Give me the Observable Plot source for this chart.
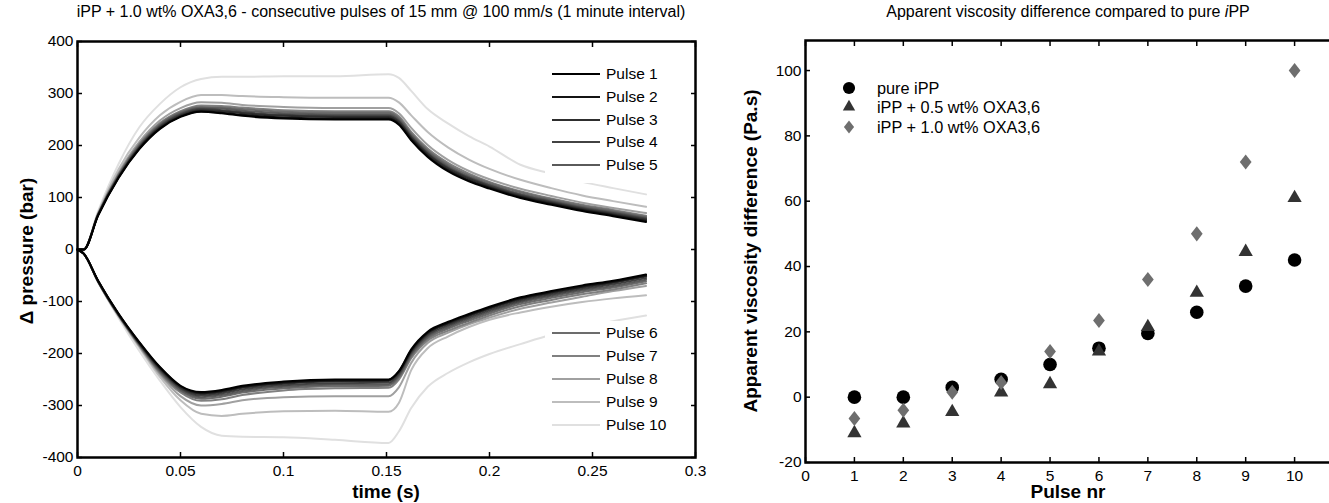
<!DOCTYPE html>
<html><head><meta charset="utf-8">
<script src="https://cdn.jsdelivr.net/npm/d3@7"></script>
<script src="https://cdn.jsdelivr.net/npm/@observablehq/plot@0.6"></script>
<style>
html,body{margin:0;padding:0;background:#fff;overflow:hidden}
#wrap{position:relative;width:1329px;height:503px;overflow:hidden;font-family:"Liberation Sans",Arial,Helvetica,sans-serif;color:#000}
.abs{position:absolute;white-space:nowrap}
.title{font-size:16px;text-align:center}
.axlab{font-size:19px;font-weight:bold;text-align:center}
.leg{position:absolute;background:#fff}
.legrow{position:absolute;font-size:15.5px;line-height:18px;white-space:nowrap}
</style></head><body><div id="wrap"></div>
<script>
// ---------------- LEFT CHART DATA ----------------
const times = [0, 0.003, 0.01, 0.02, 0.03, 0.04, 0.05, 0.06, 0.07, 0.08, 0.1, 0.125, 0.151, 0.156, 0.162, 0.17, 0.18, 0.19, 0.2, 0.215, 0.23, 0.245, 0.26, 0.276];
const pulseNames = ["Pulse 1","Pulse 2","Pulse 3","Pulse 4","Pulse 5","Pulse 6","Pulse 7","Pulse 8","Pulse 9","Pulse 10"];
const pulseColors = ["#000000","#141414","#2e2e2e","#424242","#5a5a5a","#6c6c6c","#808080","#a0a0a0","#bdbdbd","#e0e0e0"];
// positive pressure branch (bar), one row per pulse, values at `times`
const pulseUpper = [
  [0,0,65,138,193,232,255,265,262,257,252,250,250,240,210,178,150,131,117,99,86,74,64,53],
  [0,0,66,139,194,233,256,266,263,259,254,252,252,242,212,180,152,133,119,101,88,76,66,55],
  [0,0,66,140,196,235,258,268,266,262,257,255,255,245,215,183,155,136,121,103,90,78,68,57],
  [0,0,67,141,197,237,260,270,268,264,259,257,257,247,217,185,157,138,123,105,92,80,70,59],
  [0,0,67,142,199,239,262,272,271,267,262,260,260,250,220,188,160,140,125,107,94,82,72,61],
  [0,0,68,144,201,241,264,274,273,270,265,263,263,253,223,191,163,143,128,110,96,84,74,63],
  [0,0,68,145,203,243,266,277,276,273,268,266,266,256,226,194,166,146,130,112,98,86,76,65],
  [0,0,69,148,207,248,272,283,282,278,274,272,272,262,234,201,172,151,135,117,103,90,80,70],
  [0,0,71,155,215,258,284,297,297,295,293,292,292,283,258,226,196,173,155,134,118,104,93,82],
  [0,0,74,165,235,280,312,328,332,332,333,333,337,330,305,270,242,218,198,163,146,130,118,106]
];
// negative pressure branch (bar)
const pulseLower = [
  [0,-8,-60,-124,-178,-226,-262,-274,-270,-262,-254,-250,-250,-234,-192,-158,-139,-124,-110,-92,-80,-69,-60,-48],
  [0,-8,-60,-124,-179,-227,-263,-276,-272,-264,-256,-252,-251,-235,-194,-160,-141,-126,-112,-94,-82,-71,-62,-50],
  [0,-8,-61,-125,-180,-229,-265,-278,-274,-266,-258,-254,-253,-237,-196,-162,-143,-128,-114,-96,-84,-73,-64,-52],
  [0,-8,-61,-126,-181,-231,-267,-281,-277,-269,-261,-257,-256,-240,-199,-165,-146,-131,-117,-99,-87,-76,-67,-55],
  [0,-8,-61,-126,-182,-233,-270,-284,-280,-272,-264,-260,-259,-243,-202,-168,-149,-134,-120,-102,-90,-79,-70,-58],
  [0,-8,-62,-127,-183,-235,-272,-287,-283,-275,-267,-263,-262,-246,-205,-171,-152,-137,-123,-105,-93,-82,-73,-61],
  [0,-8,-62,-127,-184,-237,-275,-291,-288,-280,-271,-267,-266,-250,-209,-175,-156,-141,-127,-109,-97,-86,-77,-65],
  [0,-8,-62,-128,-186,-240,-282,-300,-297,-290,-284,-282,-282,-265,-218,-180,-160,-144,-131,-114,-102,-91,-80,-70],
  [0,-8,-62,-129,-188,-245,-290,-316,-320,-316,-311,-310,-312,-295,-232,-190,-167,-149,-135,-121,-110,-101,-94,-88],
  [0,-8,-63,-132,-195,-252,-303,-341,-358,-360,-361,-366,-372,-350,-305,-264,-237,-217,-201,-182,-164,-150,-138,-127]
];
const timeTicks = [0, 0.05, 0.1, 0.15, 0.2, 0.25, 0.3];
const pressureTicks = [-400, -300, -200, -100, 0, 100, 200, 300, 400];
const leftTitle = "iPP + 1.0 wt% OXA3,6 - consecutive pulses of 15 mm @ 100 mm/s (1 minute interval)";
const leftXLabel = "time (s)";
const leftYLabel = "\u0394 pressure (bar)";

// ---------------- RIGHT CHART DATA ----------------
const pulseNr = [1, 2, 3, 4, 5, 6, 7, 8, 9, 10];
const pureIPP = [0, 0, 3, 5.5, 10, 15, 19.5, 26, 34, 42];
const oxa05 = [-11, -8, -4.5, 1.5, 4, 14, 21.5, 32, 44.5, 61];
const oxa10 = [-6.5, -4, 1.5, 4.5, 14, 23.5, 36, 50, 72, 100];
const seriesNames = ["pure iPP", "iPP + 0.5 wt% OXA3,6", "iPP + 1.0 wt% OXA3,6"];
const seriesColors = ["#000000", "#333333", "#6e6e6e"];
const pulseNrTicks = [0, 1, 2, 3, 4, 5, 6, 7, 8, 9, 10];
const viscTicks = [-20, 0, 20, 40, 60, 80, 100];
const rightXLabel = "Pulse nr";
const rightYLabel = "Apparent viscosity difference (Pa.s)";

// ---------------- BUILD ----------------
const wrap = document.getElementById("wrap");
const FONT = '"Liberation Sans", Arial, Helvetica, sans-serif';

// MATLAB-like rhombus marker (a bit wider than d3.symbolDiamond)
const wideDiamond = {
  draw(context, size) {
    const h = Math.sqrt(size / 1.56), w = 0.78 * h;
    context.moveTo(0, -h); context.lineTo(w, 0); context.lineTo(0, h); context.lineTo(-w, 0); context.closePath();
  }
};

function addDiv(cls, html, css) {
  const d = document.createElement("div");
  d.className = "abs " + cls;
  d.innerHTML = html;
  Object.assign(d.style, css);
  wrap.appendChild(d);
  return d;
}
function boxAxes(xt, yt, fmtX, fmtY, fs) {
  const common = {tickSize: -5, strokeWidth: 1.5, label: null, fontSize: fs};
  return [
    Plot.axisX({...common, anchor: "bottom", ticks: xt, tickPadding: 12, tickFormat: fmtX}),
    Plot.axisX({...common, anchor: "top", ticks: xt, tickFormat: () => ""}),
    Plot.axisY({...common, anchor: "left", ticks: yt, tickPadding: 9, tickFormat: fmtY}),
    Plot.axisY({...common, anchor: "right", ticks: yt, tickFormat: () => ""}),
    Plot.frame({stroke: "#000", strokeWidth: 2.5})
  ];
}

// left table
const rows = [];
pulseNames.forEach((name, i) => {
  times.forEach((t, j) => rows.push({t, v: pulseUpper[i][j], pulse: name, branch: "up"}));
  times.forEach((t, j) => rows.push({t, v: pulseLower[i][j], pulse: name, branch: "down"}));
});
const drawRows = rows.slice().sort((a, b) => pulseNames.indexOf(b.pulse) - pulseNames.indexOf(a.pulse));

const leftPlot = Plot.plot({
  width: 720, height: 503,
  marginLeft: 77, marginRight: 25, marginTop: 41, marginBottom: 46,
  style: {fontFamily: FONT, fontSize: "15.5px", color: "#000", background: "transparent", overflow: "visible"},
  x: {domain: [0, 0.3]},
  y: {domain: [-400, 400]},
  color: {domain: pulseNames, range: pulseColors},
  marks: [
    Plot.line(drawRows, {x: "t", y: "v", z: d => d.pulse + d.branch, stroke: "pulse", strokeWidth: 2, curve: "monotone-x"}),
    ...boxAxes(timeTicks, pressureTicks, d => String(d), d => String(d), 15.5)
  ]
});
leftPlot.style.position = "absolute";
leftPlot.style.left = "0px";
leftPlot.style.top = "0px";
wrap.appendChild(leftPlot);

// right table
const pts = [];
[pureIPP, oxa05, oxa10].forEach((arr, s) => pulseNr.forEach((p, j) => pts.push({p, v: arr[j], series: seriesNames[s]})));
const symR = [6.8, 5.3, 5.3];
const rightPlot = Plot.plot({
  width: 640, height: 503,
  marginLeft: 85, marginRight: 17, marginTop: 40, marginBottom: 41,
  style: {fontFamily: FONT, fontSize: "15.5px", color: "#000", background: "transparent", overflow: "visible"},
  x: {domain: [0, 11]},
  y: {domain: [-20, 109.2]},
  color: {domain: seriesNames, range: seriesColors},
  marks: [
    Plot.dot(pts.filter(d => d.series === seriesNames[0]), {x: "p", y: "v", fill: "series", symbol: "circle", r: symR[0]}),
    Plot.dot(pts.filter(d => d.series === seriesNames[1]), {x: "p", y: "v", fill: "series", symbol: "triangle", r: symR[1]}),
    Plot.dot(pts.filter(d => d.series === seriesNames[2]), {x: "p", y: "v", fill: "series", symbol: wideDiamond, r: symR[2]}),
    ...boxAxes(pulseNrTicks, viscTicks, d => String(d), d => String(d), 15.5)
  ]
});
rightPlot.style.position = "absolute";
rightPlot.style.left = "720px";
rightPlot.style.top = "0px";
wrap.appendChild(rightPlot);

// titles & axis labels
addDiv("title", leftTitle, {left: "0px", width: "762px", top: "3px"});
addDiv("title", "Apparent viscosity difference compared to pure <i>i</i>PP", {left: "868px", width: "400px", top: "3px"});
addDiv("axlab", leftXLabel, {left: "286px", width: "200px", top: "481px"});
addDiv("axlab", rightXLabel, {left: "968px", width: "200px", top: "481px"});
function vlabel(text, cx, cy) {
  addDiv("axlab", text, {left: (cx - 200) + "px", width: "400px", top: (cy - 11) + "px", height: "22px", lineHeight: "22px", transform: "rotate(-90deg)", transformOrigin: "50% 50%"});
}
vlabel(leftYLabel, 27, 251);
vlabel(rightYLabel, 751, 251);

// left legends (white boxes)
function pulseLegend(indices, top, rowTops) {
  const box = document.createElement("div");
  box.className = "leg";
  Object.assign(box.style, {left: "545px", top: top + "px", width: "146px", height: (rowTops.length * 22.8 + 6) + "px"});
  wrap.appendChild(box);
  indices.forEach((idx, k) => {
    const y = rowTops[k];
    const r = document.createElement("div");
    r.className = "legrow";
    Object.assign(r.style, {left: "552px", top: (y - 9) + "px"});
    r.innerHTML = `<svg width="50" height="18" style="vertical-align:top"><line x1="0" x2="48" y1="9" y2="9" stroke="${pulseColors[idx]}" stroke-width="2.2"/></svg><span style="margin-left:4px">${pulseNames[idx]}</span>`;
    wrap.appendChild(r);
  });
}
pulseLegend([0,1,2,3,4], 63, [74, 96.8, 119.6, 142.4, 165.2]);
pulseLegend([5,6,7,8,9], 321, [333, 356, 379, 402, 425]);

// right legend
const symMap = [d3.symbolCircle, d3.symbolTriangle, wideDiamond];
const legTops = [88, 107, 127];
seriesNames.forEach((name, s) => {
  const r = document.createElement("div");
  r.className = "legrow";
  Object.assign(r.style, {left: "839px", top: (legTops[s] - 9) + "px", fontSize: "16.3px"});
  const path = d3.symbol(symMap[s], Math.PI * symR[s] * symR[s] * (s === 0 ? 0.8 : 0.75))();
  r.innerHTML = `<svg width="22" height="18" style="vertical-align:top"><path transform="translate(10,9)" d="${path}" fill="${seriesColors[s]}"/></svg><span style="margin-left:16px">${name}</span>`;
  wrap.appendChild(r);
});
</script></body></html>
